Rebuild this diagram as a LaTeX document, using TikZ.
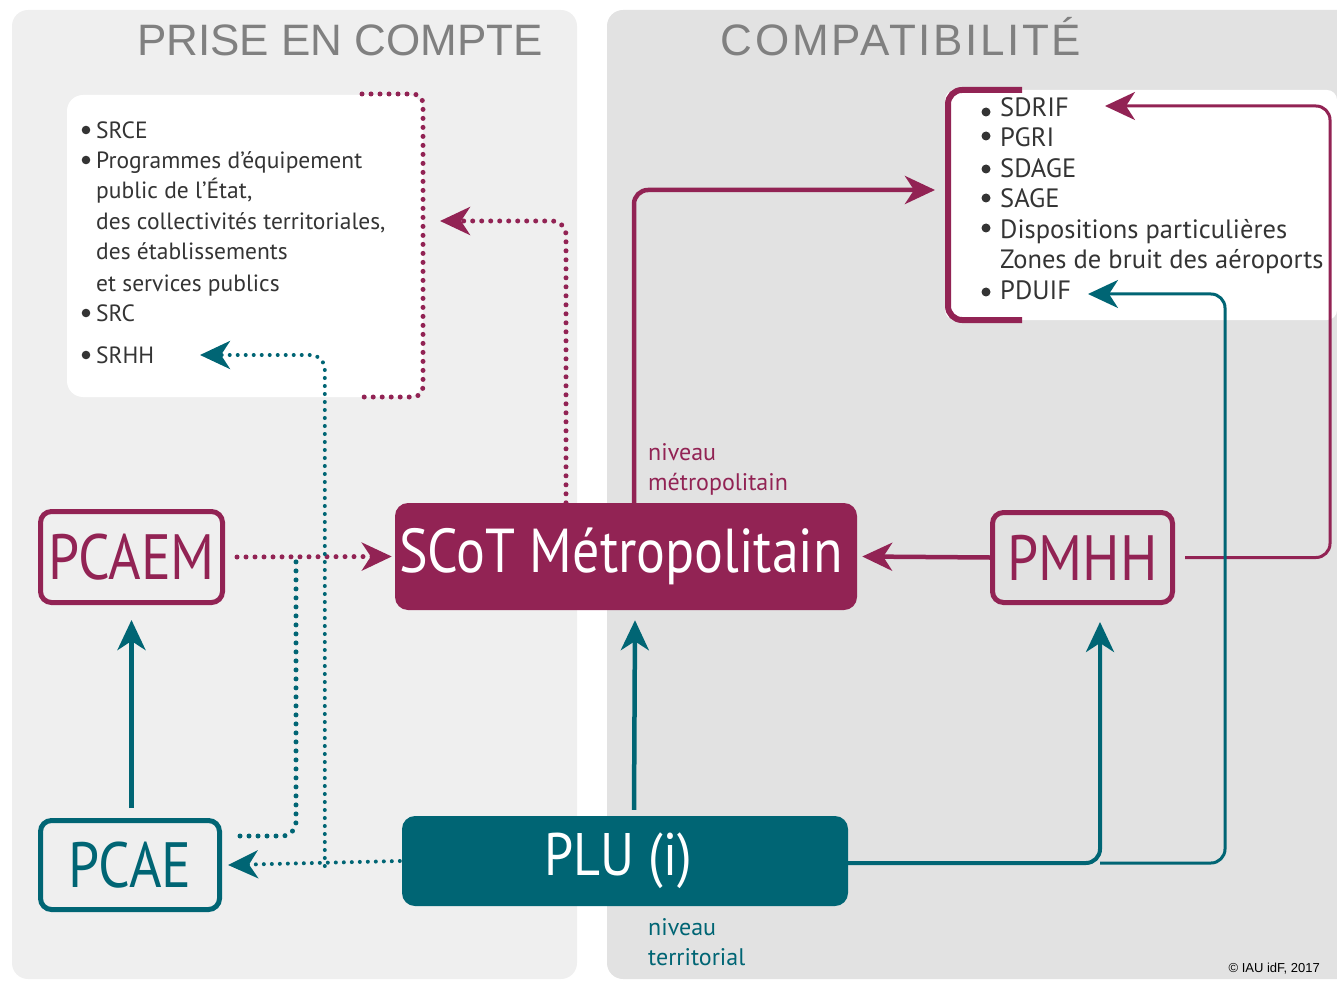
\documentclass[tikz,border=0pt]{standalone}
\usepackage{fontspec}
\setmainfont{PT Sans}
\newfontfamily\titlefont{Liberation Sans}
\newfontfamily\widetitlefont[LetterSpace=6]{Liberation Sans}
\newfontfamily\boxfont[FakeStretch=0.87]{PT Sans}
\usetikzlibrary{arrows.meta}

\definecolor{metro}{RGB}{146,35,84}
\definecolor{terri}{RGB}{0,101,116}
\definecolor{panelleft}{RGB}{239,239,239}
\definecolor{panelright}{RGB}{226,226,226}
\definecolor{titlegray}{RGB}{128,128,128}
\definecolor{listgray}{RGB}{52,52,52}

\tikzset{
  outlinebox/.style={draw=#1, line width=5pt, rounded corners=11pt, text=#1,
    inner sep=0pt, font=\boxfont\fontsize{64}{64}\selectfont},
  filledbox/.style={fill=#1, rounded corners=13pt, text=white,
    inner sep=0pt, font=\boxfont\fontsize{62}{62}\selectfont},
  leftitem/.style={anchor=base west, inner sep=0pt, text=listgray,
    font=\fontsize{23.5}{28}\selectfont},
  rightitem/.style={anchor=base west, inner sep=0pt, text=listgray,
    font=\fontsize{26.5}{30}\selectfont},
  level/.style={anchor=north west, inner sep=0pt, align=left,
    font=\fontsize{24}{30}\selectfont},
  dotlink/.style={draw=#1, line width=5pt, line cap=round,
    dash pattern=on 0pt off 9pt, rounded corners=14pt},
  link/.style={draw=#1, line width=4.5pt, rounded corners=14pt},
}

\begin{document}
\begin{tikzpicture}[x=1pt, y=-1pt, >={Stealth[length=30pt,width=28pt,inset=9pt]}]
\useasboundingbox (0,0) rectangle (1337,981);

% Panels
\fill[panelleft, rounded corners=16pt] (12,10) rectangle (577,979);
\fill[panelright, rounded corners=16pt] (607,10) rectangle (1360,979);
\node[anchor=base, text=titlegray, font=\titlefont\fontsize{44}{44}\selectfont] (titlepec) at (340,56) {PRISE EN COMPTE};
\node[anchor=base, text=titlegray, font=\widetitlefont\fontsize{44}{44}\selectfont] (titlecomp) at (901,56) {COMPATIBILITÉ};

% White boxes
\fill[white, rounded corners=16pt] (67,95) rectangle (423,397);
\fill[white, rounded corners=10pt] (945,90) rectangle (1337,320);
\draw[metro, line width=6pt, rounded corners=14pt] (1022,90) -| (948,320) -- (1022,320);
\draw[dotlink=metro, rounded corners=10pt] (362,94) -| (423,397) -- (362,397);

% Prise en compte list
\foreach \y in {130,160,313,355}
  \fill[listgray] (86,\y) circle (4.3pt);
\node[leftitem] (srce) at (96,139) {SRCE};
\node[leftitem] (progA) at (96,169) {Programmes d’équipement};
\node[leftitem] (progB) at (96,199) {public de l’État,};
\node[leftitem] (progC) at (96,230) {des collectivités territoriales,};
\node[leftitem] (progD) at (96,260) {des établissements};
\node[leftitem] (progE) at (96,291) {et services publics};
\node[leftitem] (src) at (96,321) {SRC};
\node[leftitem] (srhh) at (96,363) {SRHH};

% Compatibilite list
\foreach \y in {112,136,169,198,228,292}
  \fill[listgray] (986,\y) circle (4.5pt);
\foreach \name/\y/\txt in {sdrif/117/SDRIF, pgri/147/PGRI, sdage/178/SDAGE,
    sage/208/SAGE, dispo/239/Dispositions particulières,
    bruit/269/Zones de bruit des aéroports, pduif/300/PDUIF}
  \node[rightitem] (\name) at (1000,\y) {\txt};

% Main boxes
\node[outlinebox=metro, minimum width=182pt, minimum height=91pt] (pcaem) at (131.5,557) {PCAEM};
\node[filledbox=metro, minimum width=462pt, minimum height=107pt] (scot) at (626,556.5) {\raisebox{-3pt}{SCoT Métropolitain}\hspace*{10pt}};
\node[outlinebox=metro, minimum width=180pt, minimum height=90pt] (pmhh) at (1082.5,557.5) {PMHH};
\node[outlinebox=terri, minimum width=179pt, minimum height=89pt] (pcae) at (130,865) {PCAE};
\node[filledbox=terri, minimum width=446pt, minimum height=90pt, font=\boxfont\fontsize{60}{60}\selectfont] (plu) at (625,861) {PLU (i)\hspace*{14pt}};

\node[level, text=metro] (lvlmetro) at (648,443) {niveau\\métropolitain};
\node[level, text=terri] (lvlterri) at (648,918) {niveau\\territorial};

% Turning points
\coordinate (pecin) at (440,221);
\coordinate (compin) at (935,190);
\coordinate (sdrifin) at (1105,106);
\coordinate (sdrifturn) at (1330,106);
\coordinate (srhhin) at (200,355);
\coordinate (merge) at (296,559);
\coordinate (pduifturn) at (1225,294);
\coordinate (pduifin) at (1088,294);
\coordinate (pluright) at (1100,863);

% Metropolitan links
\draw[dotlink=metro, ->] ([xshift=-60pt]scot.north) |- (pecin);
\draw[link=metro, ->] ([xshift=8pt]scot.north) |- (compin);
\draw[link=metro, line width=3pt, ->] ([xshift=10pt]pmhh.east) -| (sdrifturn) -- (sdrifin);
\draw[link=metro, ->] (pmhh.west) -- ([xshift=5pt]scot.east);
\draw[dotlink=metro, ->] ([xshift=12pt]pcaem.east) -- ([xshift=-3pt]scot.west);

% Territorial links
\draw[dotlink=terri, line width=4pt, dash pattern=on 0pt off 8pt, ->] ([xshift=-2pt]plu.west) -- ([xshift=6pt]pcae.east);
\draw[dotlink=terri, line width=4pt, dash pattern=on 0pt off 8pt, ->] ([xshift=-77pt,yshift=-5pt]plu.west) |- (srhhin);
\draw[dotlink=terri] ([xshift=18pt,yshift=29pt]pcae.east) -| (merge);
\draw[link=terri, line width=5pt, ->] ([yshift=10pt]pcae.north -| pcaem.south) -- ([yshift=-15pt]pcaem.south);
\draw[link=terri, ->] ([xshift=9pt,yshift=6pt]plu.north) -- ([xshift=9pt,yshift=-10pt]scot.south);
\draw[link=terri, line width=4pt, ->] ([yshift=-2pt]plu.east) -| ([xshift=17.5pt,yshift=-17pt]pmhh.south);
\draw[link=terri, line width=3pt, ->] (pluright) -| (pduifturn) -- (pduifin);

\node[anchor=east, inner sep=0pt, font=\titlefont\fontsize{13}{13}\selectfont] (copy) at (1320,969) {© IAU idF, 2017};
\end{tikzpicture}
\end{document}
